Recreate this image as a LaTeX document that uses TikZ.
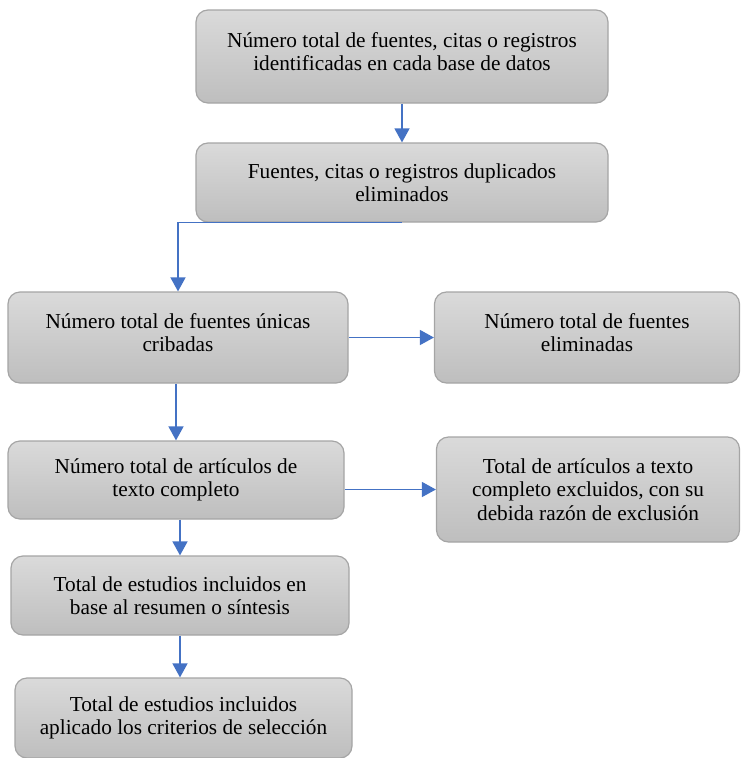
\documentclass[tikz,border=0pt]{standalone}
\usepackage{fontspec}
\setmainfont{Liberation Serif}
\definecolor{boxtop}{RGB}{218, 218, 218}
\definecolor{boxbot}{RGB}{190, 190, 190}
\definecolor{boxline}{RGB}{165, 165, 165}
\definecolor{flowblue}{RGB}{68, 114, 196}
\usetikzlibrary{arrows.meta, positioning, calc}

\begin{document}
\begin{tikzpicture}[
  x=1pt, y=-1pt,
  stepbox/.style={draw=boxline, line width=1.2pt, rounded corners=12pt, top color=boxtop, bottom color=boxbot, align=center, font=\fontsize{21.3}{23.5}\selectfont, inner sep=0pt},
  lifted/.style={text depth=10pt},
  flow/.style={draw=flowblue, line width=1.5pt, -{Triangle[width=15pt, length=14pt]}}
]
  \useasboundingbox (0, 0) rectangle (740, 758);

  \node[stepbox, lifted, minimum width=412pt, minimum height=93pt] (ident) at (402, 56.5)
    {N\'umero total de fuentes, citas o registros\\identificadas en cada base de datos};
  \node[stepbox, minimum width=412pt, minimum height=79pt] (dupl) at (402, 182.5)
    {Fuentes, citas o registros duplicados\\eliminados};

  \node[stepbox, lifted, minimum width=340pt, minimum height=91pt] (crib) at (178, 337.5)
    {N\'umero total de fuentes \'unicas\\cribadas};
  \node[stepbox, lifted, minimum width=305pt, minimum height=91pt] (elim) at (587, 337.5)
    {N\'umero total de fuentes\\eliminadas};

  \node[stepbox, minimum width=336pt, minimum height=78pt] (compl) at (176, 480)
    {N\'umero total de art\'iculos de\\texto completo};
  \node[stepbox, minimum width=303pt, minimum height=105pt] (excl) at (588, 489.5)
    {Total de art\'iculos a texto\\completo excluidos, con su\\debida raz\'on de exclusi\'on};

  \node[stepbox, minimum width=338pt, minimum height=79pt] (resum) at (180, 595.5)
    {Total de estudios incluidos en\\base al resumen o s\'intesis};
  \node[stepbox, minimum width=337pt, minimum height=80pt] (selec) at (183.5, 718)
    {Total de estudios incluidos\\aplicado los criterios de selecci\'on};

  \draw[flow] (ident.south) -- (dupl.north);
  \draw[flow] (dupl.south) -| (crib.north);
  \draw[flow] (crib.east) -- (elim.west);
  \draw[flow] (crib.south -| compl.north) -- (compl.north);
  \draw[flow] (compl.east |- excl.west) -- (excl.west);
  \draw[flow] (compl.south -| resum.north) -- (resum.north);
  \draw[flow] (resum.south) -- (resum.south |- selec.north);
\end{tikzpicture}
\end{document}
